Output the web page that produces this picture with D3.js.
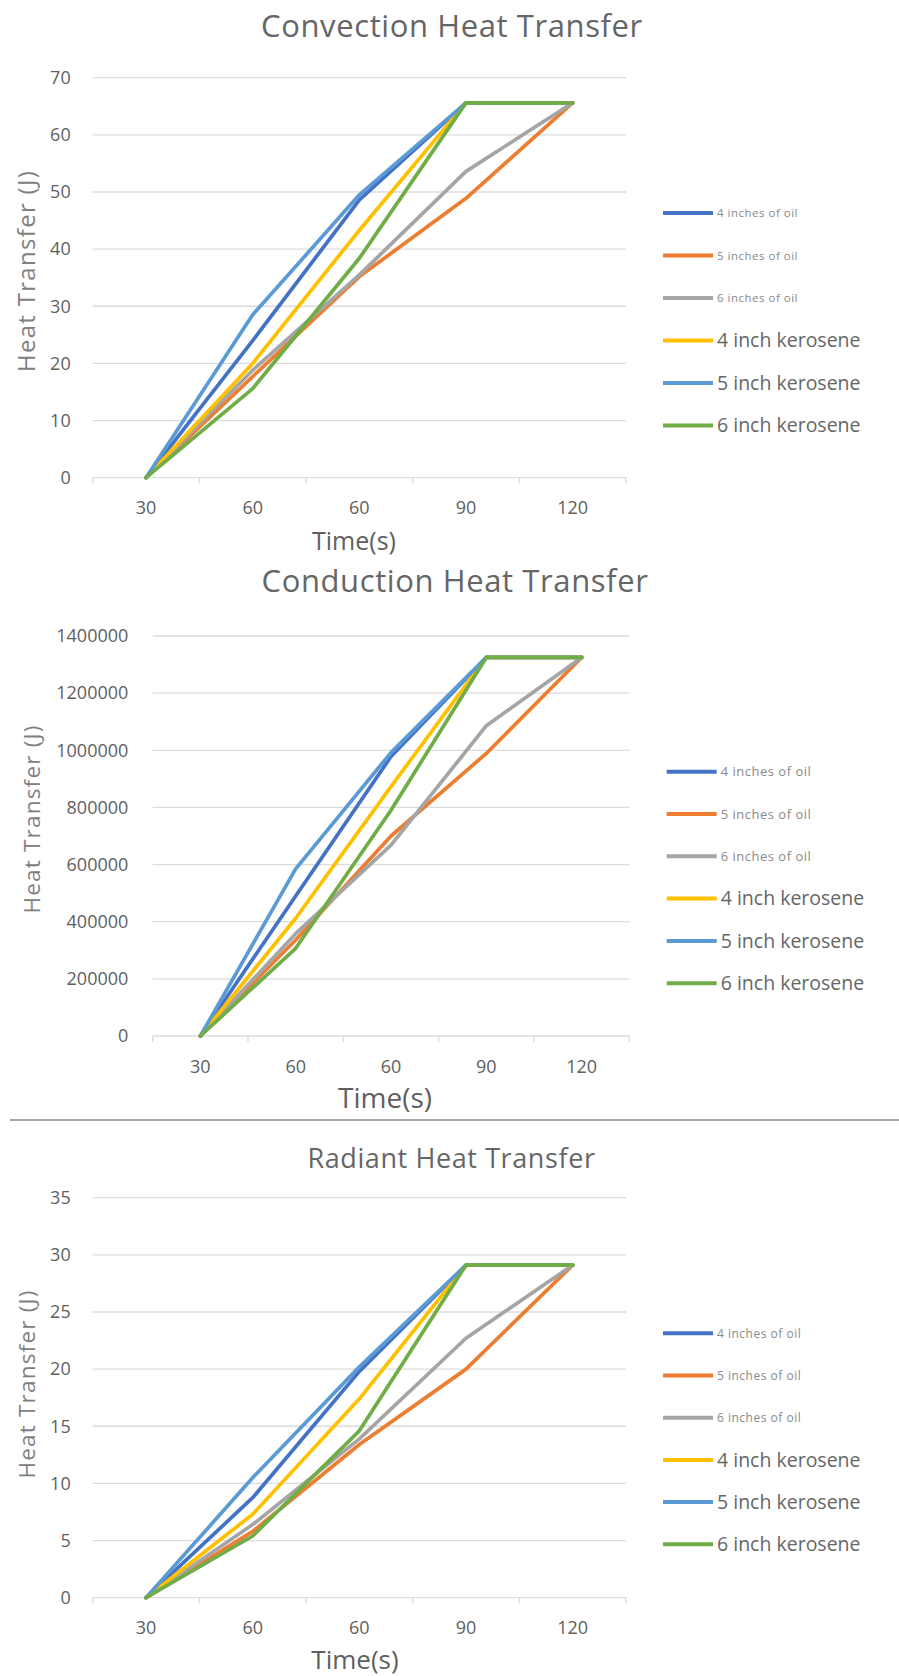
<!DOCTYPE html>
<html>
<head>
<meta charset="utf-8">
<script src="https://cdn.jsdelivr.net/npm/d3@7"></script>
<style>
  body { margin: 0; background: #fff; }
  svg { display: block; }
  text { font-family: 'Open Sans', sans-serif; }
</style>
</head>
<body>
<svg id="container" width="899" height="1676"></svg>
<script>
const timeLabels = ['30', '60', '60', '90', '120']
const seriesNames = [
  '4 inches of oil',
  '5 inches of oil',
  '6 inches of oil',
  '4 inch kerosene',
  '5 inch kerosene',
  '6 inch kerosene'
]
const seriesColors = ['#4472C4', '#ED7D31', '#A5A5A5', '#FFC000', '#5B9BD5', '#70AD47']

// one row per series, same order as seriesNames
const convectionTicks = [0, 10, 20, 30, 40, 50, 60, 70]
const convectionValues = [
  [0, 24, 48.6, 65.6, 65.6],
  [0, 17.7, 35.2, 48.9, 65.6],
  [0, 18.8, 35.5, 53.6, 65.6],
  [0, 20, 43.3, 65.6, 65.6],
  [0, 28.5, 49.5, 65.6, 65.6],
  [0, 15.6, 38.4, 65.6, 65.6]
]

const conductionTicks = [0, 200000, 400000, 600000, 800000, 1000000, 1200000, 1400000]
const conductionValues = [
  [0, 490000, 978000, 1325000, 1325000],
  [0, 336000, 700000, 989000, 1325000],
  [0, 358000, 668000, 1086000, 1325000],
  [0, 412000, 873000, 1325000, 1325000],
  [0, 585000, 992000, 1325000, 1325000],
  [0, 307000, 790000, 1325000, 1325000]
]

const radiantTicks = [0, 5, 10, 15, 20, 25, 30, 35]
const radiantValues = [
  [0, 8.75, 19.8, 29.1, 29.1],
  [0, 5.8, 13.4, 20, 29.1],
  [0, 6.4, 13.9, 22.7, 29.1],
  [0, 7.3, 17.4, 29.1, 29.1],
  [0, 10.5, 20.2, 29.1, 29.1],
  [0, 5.4, 14.6, 29.1, 29.1]
]

const svg = d3.select('#container')

function drawChart(cfg) {
  const g = svg.append('g')

  const x = d3
    .scaleBand()
    .domain(d3.range(timeLabels.length))
    .range([cfg.left, cfg.right])
  const y = d3
    .scaleLinear()
    .domain([0, d3.max(cfg.ticks)])
    .range([cfg.bottom, cfg.top])

  // gridlines
  g.append('g')
    .selectAll('line')
    .data(cfg.ticks)
    .join('line')
    .attr('x1', cfg.left)
    .attr('x2', cfg.right)
    .attr('y1', (d) => y(d))
    .attr('y2', (d) => y(d))
    .attr('stroke', '#dcdcdc')
    .attr('stroke-width', 1.3)

  // category boundary ticks under the axis (excel style)
  g.append('g')
    .selectAll('line')
    .data(d3.range(timeLabels.length + 1))
    .join('line')
    .attr('x1', (i) => cfg.left + i * x.step())
    .attr('x2', (i) => cfg.left + i * x.step())
    .attr('y1', cfg.bottom)
    .attr('y2', cfg.bottom + 6)
    .attr('stroke', '#dcdcdc')
    .attr('stroke-width', 1.3)

  const xAxis = g
    .append('g')
    .attr('transform', `translate(0,${cfg.bottom})`)
    .call(
      d3
        .axisBottom(x)
        .tickSize(0)
        .tickPadding(24)
        .tickFormat((i) => timeLabels[i])
    )
  xAxis.select('.domain').remove()
  xAxis
    .selectAll('text')
    .attr('font-size', 18)
    .attr('fill', '#5f5f5f')

  const yAxis = g
    .append('g')
    .attr('transform', `translate(${cfg.left},0)`)
    .call(
      d3
        .axisLeft(y)
        .tickValues(cfg.ticks)
        .tickSize(0)
        .tickPadding(cfg.yPad)
        .tickFormat(d3.format('d'))
    )
  yAxis.select('.domain').remove()
  yAxis
    .selectAll('text')
    .attr('font-size', 18)
    .attr('fill', '#5f5f5f')

  // series
  const line = d3
    .line()
    .x((d, i) => x(i) + x.bandwidth() / 2)
    .y((d) => y(d))

  g.append('g')
    .selectAll('path')
    .data(cfg.values)
    .join('path')
    .attr('d', line)
    .attr('fill', 'none')
    .attr('stroke', (d, i) => seriesColors[i])
    .attr('stroke-width', 3.7)
    .attr('stroke-linejoin', 'round')
    .attr('stroke-linecap', 'round')

  // title
  g.append('text')
    .attr('x', cfg.titleX)
    .attr('y', cfg.titleY)
    .attr('text-anchor', 'middle')
    .attr('font-size', cfg.titleSize)
    .attr('letter-spacing', 0.6)
    .attr('fill', '#666')
    .text(cfg.title)

  // axis titles
  g.append('text')
    .attr('transform', `translate(${cfg.yTitleX},${cfg.yTitleY}) rotate(-90)`)
    .attr('text-anchor', 'middle')
    .attr('font-size', cfg.yTitleSize)
    .attr('letter-spacing', cfg.yTitleSpacing)
    .attr('fill', '#808080')
    .text('Heat Transfer (J)')

  g.append('text')
    .attr('x', cfg.xTitleX)
    .attr('y', cfg.xTitleY)
    .attr('text-anchor', 'middle')
    .attr('font-size', cfg.xTitleSize)
    .attr('fill', '#5f5f5f')
    .text('Time(s)')

  // legend
  const leg = g
    .append('g')
    .selectAll('g')
    .data(seriesNames)
    .join('g')
    .attr('transform', (d, i) => `translate(${cfg.legendX},${cfg.legendY + i * cfg.legendStep})`)

  leg.append('line')
    .attr('x1', 0)
    .attr('x2', 50)
    .attr('stroke', (d, i) => seriesColors[i])
    .attr('stroke-width', 4)

  leg.append('text')
    .attr('x', 54)
    .attr('dy', '0.35em')
    .attr('font-size', (d, i) => (i < 3 ? cfg.smallSize : 19.5))
    .attr('letter-spacing', (d, i) => (i < 3 ? 0.5 : 0))
    .attr('fill', (d, i) => (i < 3 ? '#8a8a8a' : '#666'))
    .text((d) => d)
}

drawChart({
  title: 'Convection Heat Transfer',
  ticks: convectionTicks,
  values: convectionValues,
  left: 92.7, right: 626, top: 77.7, bottom: 477.7, yPad: 22,
  titleX: 452, titleY: 37, titleSize: 31,
  yTitleX: 35, yTitleY: 271, yTitleSize: 24, yTitleSpacing: 1.3,
  xTitleX: 354, xTitleY: 550, xTitleSize: 25,
  legendX: 663, legendY: 213, legendStep: 42.5, smallSize: 11.5
})

drawChart({
  title: 'Conduction Heat Transfer',
  ticks: conductionTicks,
  values: conductionValues,
  left: 152.7, right: 629.3, top: 636, bottom: 1036, yPad: 24.4,
  titleX: 455, titleY: 592, titleSize: 31,
  yTitleX: 40, yTitleY: 819, yTitleSize: 22.5, yTitleSpacing: 1.2,
  xTitleX: 385, xTitleY: 1108, xTitleSize: 28,
  legendX: 666.7, legendY: 771.7, legendStep: 42.3, smallSize: 13
})

drawChart({
  title: 'Radiant Heat Transfer',
  ticks: radiantTicks,
  values: radiantValues,
  left: 92.7, right: 626, top: 1197.7, bottom: 1597.7, yPad: 22,
  titleX: 451.5, titleY: 1168, titleSize: 27,
  yTitleX: 35, yTitleY: 1384, yTitleSize: 22.5, yTitleSpacing: 1.2,
  xTitleX: 355, xTitleY: 1669, xTitleSize: 26,
  legendX: 663, legendY: 1333.3, legendStep: 42.2, smallSize: 12
})

// divider between the second and third chart
svg.append('line')
  .attr('x1', 10)
  .attr('x2', 899)
  .attr('y1', 1120)
  .attr('y2', 1120)
  .attr('stroke', '#8c8c8c')
  .attr('stroke-width', 1.5)
</script>
</body>
</html>
